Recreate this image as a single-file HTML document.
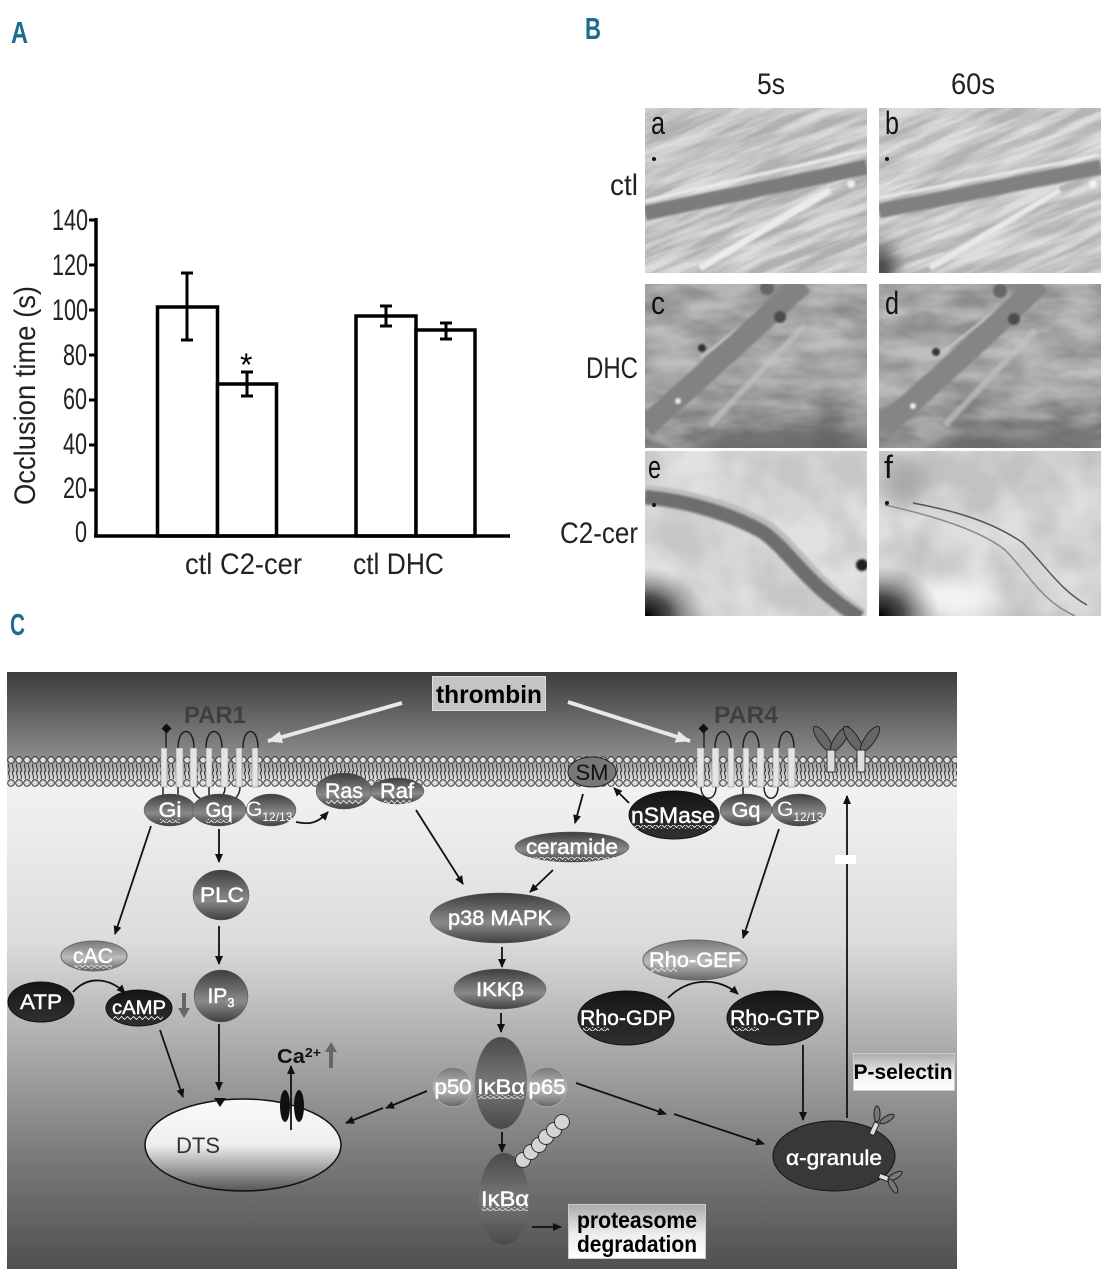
<!DOCTYPE html>
<html><head><meta charset="utf-8"><style>
html,body{margin:0;padding:0;background:#fff}
svg{display:block}
text{font-family:"Liberation Sans",sans-serif}
.n{fill:#fff;font-size:21px;text-anchor:middle;stroke:#fff;stroke-width:.45}
.t{fill:#222;font-size:30px}
.l{fill:#1b6c8e;font-weight:bold;font-size:31px}
.p{fill:#111;font-size:32px}
.k{fill:#000;font-weight:bold;font-size:23px;text-anchor:middle}
.a{stroke:#111;stroke-width:1.8;fill:none;marker-end:url(#ah)}
.bar{fill:#e4e4e4;stroke:#888;stroke-width:.6}
.loop{fill:none;stroke:#222;stroke-width:1.5}
.ov{mix-blend-mode:overlay}
</style></head><body>
<svg xmlns="http://www.w3.org/2000/svg" width="1108" height="1280" viewBox="0 0 1108 1280">
<defs>
<marker id="ah" markerWidth="10" markerHeight="10" refX="8" refY="4" orient="auto" markerUnits="userSpaceOnUse"><path d="M0,0L9,4L0,8Z" fill="#111"/></marker>
<marker id="wh" markerWidth="18" markerHeight="14" refX="14" refY="6" orient="auto" markerUnits="userSpaceOnUse"><path d="M0,0L15,6L0,12Z" fill="#e8e8e8"/></marker>
<linearGradient id="bg" x1="0" y1="0" x2="0" y2="1">
<stop offset="0" stop-color="#3c3c3c"/><stop offset=".14" stop-color="#8a8a8a"/><stop offset=".19" stop-color="#f2f2f2"/>
<stop offset=".45" stop-color="#dcdcdc"/><stop offset=".62" stop-color="#adadad"/><stop offset=".8" stop-color="#7d7d7d"/><stop offset="1" stop-color="#505050"/></linearGradient>
<linearGradient id="gd" x1="0" y1="0" x2="0" y2="1"><stop offset="0" stop-color="#3d3d3d"/><stop offset=".6" stop-color="#8a8a8a"/><stop offset="1" stop-color="#404040"/></linearGradient>
<linearGradient id="gm" x1="0" y1="0" x2="0" y2="1"><stop offset="0" stop-color="#777"/><stop offset=".55" stop-color="#bbb"/><stop offset="1" stop-color="#666"/></linearGradient>
<linearGradient id="gb" x1="0" y1="0" x2="0" y2="1"><stop offset="0" stop-color="#151515"/><stop offset="1" stop-color="#303030"/></linearGradient>
<linearGradient id="gv" x1="0" y1="0" x2="0" y2="1"><stop offset="0" stop-color="#4a4a4a"/><stop offset=".5" stop-color="#777"/><stop offset="1" stop-color="#4a4a4a"/></linearGradient>
<linearGradient id="gdts" x1="0" y1="0" x2="0" y2="1"><stop offset="0" stop-color="#fafafa"/><stop offset=".5" stop-color="#eee"/><stop offset="1" stop-color="#555"/></linearGradient>
<linearGradient id="gbox" x1="0" y1="0" x2="0" y2="1"><stop offset="0" stop-color="#aaa"/><stop offset=".55" stop-color="#eee"/><stop offset="1" stop-color="#fff"/></linearGradient>
<linearGradient id="gcd" x1="0" y1="0" x2="0" y2="1"><stop offset="0" stop-color="#a0a0a0"/><stop offset=".55" stop-color="#ababab"/><stop offset=".85" stop-color="#8e8e8e"/><stop offset="1" stop-color="#8a8a8a"/></linearGradient>
<radialGradient id="corner" cx="0" cy="1" r="1"><stop offset="0" stop-color="#000"/><stop offset=".4" stop-color="#333" stop-opacity=".85"/><stop offset="1" stop-color="#888" stop-opacity="0"/></radialGradient>
<pattern id="mem" x="7" y="756" width="8" height="31" patternUnits="userSpaceOnUse">
<circle cx="4" cy="4" r="3.300" fill="#dedede" stroke="#333" stroke-width="1"/>
<circle cx="4" cy="27" r="3.300" fill="#dedede" stroke="#333" stroke-width="1"/>
<path d="M2,8C0,11 4,13 2,16M6,8C4,11 8,13 6,16M2,15C0,18 4,20 2,23M6,15C4,18 8,20 6,23" fill="none" stroke="#333" stroke-width="1"/>
</pattern>
<pattern id="wav" width="6" height="4" patternUnits="userSpaceOnUse"><path d="M0,2L1.500,.5L4.500,3.500L6,2" fill="none" stroke="#ddd" stroke-width="1"/></pattern>
<pattern id="wavd" width="6" height="4" patternUnits="userSpaceOnUse"><path d="M0,2L1.500,.5L4.500,3.500L6,2" fill="none" stroke="#333" stroke-width="1"/></pattern>
<filter id="b1" x="-20%" y="-20%" width="140%" height="140%"><feGaussianBlur stdDeviation="1"/></filter>
<filter id="b3" x="-50%" y="-50%" width="200%" height="200%"><feGaussianBlur stdDeviation="3"/></filter>
<filter id="b8" x="-100%" y="-100%" width="300%" height="300%"><feGaussianBlur stdDeviation="10"/></filter>
<filter id="nAB" x="0" y="0" width="100%" height="100%" color-interpolation-filters="sRGB"><feTurbulence type="fractalNoise" baseFrequency=".012 .1" numOctaves="4" seed="7"/><feColorMatrix values="2.6 0 0 0 -.8 2.6 0 0 0 -.8 2.6 0 0 0 -.8 0 0 0 0 1"/></filter>
<filter id="nCD" x="0" y="0" width="100%" height="100%" color-interpolation-filters="sRGB"><feTurbulence type="fractalNoise" baseFrequency=".02 .05" numOctaves="3" seed="11"/><feColorMatrix values="2 0 0 0 -.5 2 0 0 0 -.5 2 0 0 0 -.5 0 0 0 0 1"/></filter>
<filter id="nEF" x="0" y="0" width="100%" height="100%" color-interpolation-filters="sRGB"><feTurbulence type="fractalNoise" baseFrequency=".018" numOctaves="3" seed="3"/><feColorMatrix values="2.4 0 0 0 -.7 2.4 0 0 0 -.7 2.4 0 0 0 -.7 0 0 0 0 1"/></filter>
<clipPath id="cA"><rect x="645" y="108" width="222" height="165"/></clipPath>
<clipPath id="cB"><rect x="879" y="108" width="222" height="165"/></clipPath>
<clipPath id="cC"><rect x="645" y="284" width="222" height="164"/></clipPath>
<clipPath id="cD"><rect x="879" y="284" width="222" height="164"/></clipPath>
<clipPath id="cE"><rect x="645" y="451" width="222" height="165"/></clipPath>
<clipPath id="cF"><rect x="879" y="451" width="222" height="165"/></clipPath>
</defs>
<rect width="1108" height="1280" fill="#fff"/>

<text class="l" x="11" y="43" textLength="17" lengthAdjust="spacingAndGlyphs">A</text>
<text class="l" x="585" y="39" textLength="16" lengthAdjust="spacingAndGlyphs">B</text>
<text class="l" x="10" y="635" textLength="15" lengthAdjust="spacingAndGlyphs">C</text>

<!-- Bar chart -->
<g stroke="#000" fill="#fff" stroke-width="3.5">
<rect x="157.500" y="307" width="60" height="229"/>
<rect x="217.500" y="384" width="59" height="152"/>
<rect x="356" y="316" width="60" height="220"/>
<rect x="416" y="330" width="59" height="206"/>
</g>
<g stroke="#000" stroke-width="3" fill="none">
<path d="M187,273V340M181,273H193M181,340H193"/>
<path d="M247,372V396M241,372H253M241,396H253"/>
<path d="M386,306V326M380,306H392M380,326H392"/>
<path d="M446,323V339M440,323H452M440,339H452"/>
<path d="M96,218V537M94,536H510" stroke-width="3.5"/>
<path d="M89,220H96M89,265H96M89,310H96M89,355H96M89,400H96M89,445H96M89,490H96"/>
</g>
<text class="t" x="52" y="230" textLength="36" lengthAdjust="spacingAndGlyphs">140</text>
<text class="t" x="52" y="275" textLength="36" lengthAdjust="spacingAndGlyphs">120</text>
<text class="t" x="52" y="320" textLength="36" lengthAdjust="spacingAndGlyphs">100</text>
<text class="t" x="63" y="365" textLength="24" lengthAdjust="spacingAndGlyphs">80</text>
<text class="t" x="63" y="409" textLength="24" lengthAdjust="spacingAndGlyphs">60</text>
<text class="t" x="63" y="454" textLength="24" lengthAdjust="spacingAndGlyphs">40</text>
<text class="t" x="63" y="498" textLength="24" lengthAdjust="spacingAndGlyphs">20</text>
<text class="t" x="75" y="542" textLength="12" lengthAdjust="spacingAndGlyphs">0</text>
<text class="t" transform="translate(35,505) rotate(-90)" textLength="219" lengthAdjust="spacingAndGlyphs">Occlusion time (s)</text>
<text class="t" x="185" y="574" textLength="117" lengthAdjust="spacingAndGlyphs">ctl C2-cer</text>
<text class="t" x="353" y="574" textLength="91" lengthAdjust="spacingAndGlyphs">ctl DHC</text>
<text class="t" x="240" y="376" style="font-size:32px;fill:#000">*</text>
<text class="t" x="757" y="94" textLength="28" lengthAdjust="spacingAndGlyphs">5s</text>
<text class="t" x="951" y="94" textLength="44" lengthAdjust="spacingAndGlyphs">60s</text>
<text class="t" x="610" y="195" textLength="28" lengthAdjust="spacingAndGlyphs">ctl</text>
<text class="t" x="586" y="378" textLength="52" lengthAdjust="spacingAndGlyphs">DHC</text>
<text class="t" x="560" y="543" textLength="78" lengthAdjust="spacingAndGlyphs">C2-cer</text>

<!-- Photo a -->
<g clip-path="url(#cA)">
<rect x="645" y="108" width="222" height="165" fill="#c6c6c6"/>
<rect x="450" y="-50" width="600" height="480" filter="url(#nAB)" class="ov" opacity=".38" transform="rotate(-22 756 190)"/>
<g filter="url(#b1)" fill="none">
<path d="M645,201L867,150" stroke="#eee" stroke-width="3"/>
<path d="M700,268L830,190" stroke="#ececec" stroke-width="7"/>
<path d="M645,213L867,167" stroke="#7c7c7c" stroke-width="15"/>
<circle cx="851" cy="184" r="4" fill="#eee"/>
</g>
<circle cx="654" cy="159" r="2" fill="#111"/>
</g>
<!-- Photo b -->
<g clip-path="url(#cB)">
<rect x="879" y="108" width="222" height="165" fill="#c8c8c8"/>
<rect x="684" y="-50" width="600" height="480" filter="url(#nAB)" class="ov" opacity=".38" transform="rotate(-22 990 190)"/>
<g filter="url(#b1)" fill="none">
<path d="M879,198L1101,155" stroke="#ececec" stroke-width="3"/>
<path d="M930,268L1060,190" stroke="#e8e8e8" stroke-width="6"/>
<path d="M879,211L1101,167" stroke="#808080" stroke-width="15"/>
<circle cx="1093" cy="184" r="4" fill="#f4f4f4"/>
</g>
<ellipse cx="880" cy="268" rx="14" ry="24" fill="#333" filter="url(#b8)"/>
<circle cx="887" cy="159" r="2" fill="#111"/>
</g>
<!-- Photo c -->
<g clip-path="url(#cC)">
<rect x="645" y="284" width="222" height="164" fill="url(#gcd)"/>
<rect x="450" y="100" width="600" height="500" filter="url(#nCD)" class="ov" opacity=".25"/>
<ellipse cx="790" cy="447" rx="100" ry="14" fill="#646464" filter="url(#b8)"/>
<g filter="url(#b1)" fill="none">
<path d="M700,358L790,288" stroke="#cfcfcf" stroke-width="2"/>
<path d="M645,427Q720,360 803,283" stroke="#828282" stroke-width="22"/>
<path d="M710,425L805,325" stroke="#c0c0c0" stroke-width="6" opacity=".7"/>
</g>
<g filter="url(#b1)"><circle cx="702" cy="348" r="4" fill="#333"/><circle cx="780" cy="317" r="6" fill="#4c4c4c"/><circle cx="767" cy="288" r="7" fill="#666"/><circle cx="678" cy="401" r="3" fill="#eee"/></g>
</g>
<!-- Photo d -->
<g clip-path="url(#cD)">
<rect x="879" y="284" width="222" height="164" fill="url(#gcd)"/>
<rect x="684" y="100" width="600" height="500" filter="url(#nCD)" class="ov" opacity=".25"/>
<ellipse cx="1030" cy="447" rx="100" ry="12" fill="#6a6a6a" filter="url(#b8)"/>
<g filter="url(#b1)" fill="none">
<path d="M935,358L1025,288" stroke="#cfcfcf" stroke-width="2"/>
<path d="M883,427Q960,360 1040,283" stroke="#858585" stroke-width="22"/>
<path d="M945,425L1035,330" stroke="#c0c0c0" stroke-width="6" opacity=".7"/>
</g>
<g filter="url(#b1)"><circle cx="936" cy="352" r="4" fill="#333"/><circle cx="1014" cy="319" r="6" fill="#4c4c4c"/><circle cx="1000" cy="291" r="7" fill="#666"/><circle cx="913" cy="406" r="3" fill="#eee"/></g>
</g>
<!-- Photo e -->
<g clip-path="url(#cE)">
<rect x="645" y="451" width="222" height="165" fill="#d4d4d4"/>
<rect x="450" y="300" width="600" height="500" filter="url(#nEF)" class="ov" opacity=".3"/>
<path d="M645,495C690,499 735,513 765,530C795,552 805,580 860,618" fill="none" stroke="#bcbcbc" stroke-width="20" filter="url(#b1)"/>
<path d="M645,497C690,501 733,515 763,532C793,554 803,582 860,618" fill="none" stroke="#6e6e6e" stroke-width="14" filter="url(#b1)"/>
<rect x="645" y="566" width="62" height="50" fill="url(#corner)"/>
<ellipse cx="862" cy="565" rx="6" ry="6" fill="#222" filter="url(#b1)"/>
<circle cx="654" cy="505" r="2" fill="#111"/>
</g>
<!-- Photo f -->
<g clip-path="url(#cF)">
<rect x="879" y="451" width="222" height="165" fill="#d0d0d0"/>
<rect x="684" y="300" width="600" height="500" filter="url(#nEF)" class="ov" opacity=".3"/>
<ellipse cx="950" cy="598" rx="45" ry="18" fill="#f4f4f4" filter="url(#b8)"/>
<ellipse cx="905" cy="480" rx="22" ry="24" fill="#a8a8a8" filter="url(#b8)"/>
<g fill="none" stroke="#555" stroke-width="1.500">
<path d="M913,503C950,510 990,520 1023,543C1045,565 1060,590 1087,605"/>
<path d="M885,505C930,515 980,530 1005,550C1030,575 1040,600 1075,616" stroke="#888"/>
</g>
<rect x="879" y="566" width="62" height="50" fill="url(#corner)"/>
<circle cx="887" cy="503" r="2" fill="#111"/>
</g>
<text class="p" x="651" y="134" textLength="14" lengthAdjust="spacingAndGlyphs">a</text>
<text class="p" x="885" y="134" textLength="14" lengthAdjust="spacingAndGlyphs">b</text>
<text class="p" x="651" y="314" textLength="14" lengthAdjust="spacingAndGlyphs">c</text>
<text class="p" x="885" y="314" textLength="14" lengthAdjust="spacingAndGlyphs">d</text>
<text class="p" x="648" y="478" textLength="13" lengthAdjust="spacingAndGlyphs">e</text>
<text class="p" x="884" y="478" textLength="9" lengthAdjust="spacingAndGlyphs">f</text>

<!-- Pathway panel -->
<rect x="7" y="672" width="950" height="597" fill="url(#bg)"/>
<rect x="7" y="756" width="950" height="31" fill="url(#mem)"/>

<line x1="402" y1="703" x2="268" y2="741" stroke="#e8e8e8" stroke-width="4" marker-end="url(#wh)"/>
<line x1="568" y1="702" x2="690" y2="741" stroke="#e8e8e8" stroke-width="4" marker-end="url(#wh)"/>
<rect x="432.500" y="676.500" width="113" height="34" fill="#c4c4c4" stroke="#ddd"/>
<text class="k" x="489" y="703" textLength="106" lengthAdjust="spacingAndGlyphs" style="font-size:25px">thrombin</text>
<text x="184" y="723" textLength="62" lengthAdjust="spacingAndGlyphs" style="font-weight:bold;font-size:24px;fill:#3f3f3f">PAR1</text>
<text x="714" y="723" textLength="64" lengthAdjust="spacingAndGlyphs" style="font-weight:bold;font-size:24px;fill:#3f3f3f">PAR4</text>

<!-- PAR1 -->
<path class="loop" d="M166,748V732M178,748C178,726 194,726 194,748M206,748C206,726 222,726 222,748M243,748C243,726 258,726 258,748M163,787V800M178,787V800M193,787C193,805 226,805 225,787M209,787V795M240,787C240,800 226,805 226,800"/>
<rect x="163" y="725" width="7" height="7" fill="#111" transform="rotate(45 166.500 728.500)"/>
<g class="bar"><rect x="161" y="748" width="6" height="39"/><rect x="176" y="748" width="7" height="39"/><rect x="190" y="748" width="7" height="39"/><rect x="206" y="748" width="6" height="39"/><rect x="221" y="748" width="7" height="39"/><rect x="236" y="748" width="6" height="39"/><rect x="252" y="748" width="6" height="39"/></g>
<!-- PAR4 -->
<path class="loop" d="M704,748V732M715,748C715,726 731,726 731,748M743,748C743,726 759,726 759,748M779,748C779,726 794,726 794,748M701,787C701,802 716,802 716,787M743,787V798M764,787C764,802 778,802 778,787"/>
<rect x="700" y="725" width="7" height="7" fill="#111" transform="rotate(45 703.500 728.500)"/>
<g class="bar"><rect x="697" y="748" width="7" height="39"/><rect x="712" y="748" width="7" height="39"/><rect x="728" y="748" width="6" height="39"/><rect x="743" y="748" width="6" height="39"/><rect x="757" y="748" width="7" height="39"/><rect x="773" y="748" width="6" height="39"/><rect x="788" y="748" width="7" height="39"/></g>
<!-- P-selectin receptors -->
<g fill="#666" stroke="#222" stroke-width="1">
<ellipse cx="823" cy="739" rx="5" ry="15" transform="rotate(-35 823 739)"/><ellipse cx="840" cy="739" rx="5" ry="15" transform="rotate(35 840 739)"/>
<ellipse cx="853" cy="739" rx="5" ry="15" transform="rotate(-35 853 739)"/><ellipse cx="870" cy="739" rx="5" ry="15" transform="rotate(35 870 739)"/>
</g>
<rect x="827" y="750" width="8" height="22" fill="#ddd" stroke="#333"/><rect x="857" y="750" width="8" height="22" fill="#ddd" stroke="#333"/>

<!-- arrows -->
<path class="a" d="M151,826L115,934"/>
<path class="a" d="M219,829V862"/>
<path class="a" d="M219,926V964"/>
<path class="a" d="M296,822C310,825 318,823 328,812"/>
<path class="a" d="M416,810L463,884"/>
<path class="a" d="M583,794L575,823"/>
<path class="a" d="M629,803L614,788"/>
<path class="a" d="M553,870L530,892"/>
<path class="a" d="M779,829L743,938"/>
<path class="a" d="M502,947V967"/>
<path class="a" d="M501,1013V1032"/>
<path class="a" d="M502,1132V1152"/>
<path class="a" d="M532,1227H561"/>
<path class="a" d="M427,1091L386,1108"/>
<path class="a" d="M383,1108L346,1123"/>
<path class="a" d="M576,1083L666,1114"/>
<path class="a" d="M674,1114L764,1144"/>
<path class="a" d="M803,1045V1120"/>
<path class="a" d="M160,1030L183,1097"/>
<path class="a" d="M219,1024V1090"/>
<path class="a" d="M847,1118V796"/>
<path class="a" d="M668,998C690,976 720,978 738,994"/>
<path class="a" d="M73,992C88,975 110,978 125,993"/>
<rect x="835" y="855" width="21" height="9" fill="#fff"/>

<!-- DTS -->
<ellipse cx="243" cy="1145" rx="98" ry="46" fill="url(#gdts)" stroke="#111" stroke-width="1.500"/>
<text x="176" y="1153" style="font-size:22px;fill:#333" textLength="44" lengthAdjust="spacingAndGlyphs">DTS</text>
<path d="M214,1098h12l-6,9z" fill="#111"/>
<ellipse cx="285" cy="1106" rx="5" ry="16" fill="#111"/><ellipse cx="299" cy="1106" rx="5" ry="16" fill="#111"/>
<path class="a" d="M291,1130V1066"/>
<text x="277" y="1063" style="font-size:20px;fill:#111;font-weight:bold" textLength="44" lengthAdjust="spacingAndGlyphs">Ca<tspan dy="-6" style="font-size:13px">2+</tspan></text>
<path d="M331,1068V1050" stroke="#666" stroke-width="4"/><path d="M325,1052l6,-10l6,10z" fill="#666"/>
<path d="M184,993V1011" stroke="#666" stroke-width="4"/><path d="M178,1008l6,10l6,-10z" fill="#666"/>

<!-- nodes -->
<g fill="url(#gd)" stroke="#555" stroke-width=".5">
<ellipse cx="170" cy="810" rx="26" ry="16"/><ellipse cx="219" cy="810" rx="27" ry="16"/><ellipse cx="271" cy="810" rx="25" ry="16"/>
<ellipse cx="344" cy="791" rx="28" ry="18"/><ellipse cx="397" cy="791" rx="27" ry="13"/>
<ellipse cx="221" cy="895" rx="28" ry="25"/><ellipse cx="221" cy="996" rx="27" ry="26"/>
<ellipse cx="572" cy="847" rx="57" ry="15"/><ellipse cx="500" cy="918" rx="70" ry="25"/><ellipse cx="500" cy="989" rx="46" ry="20"/>
<ellipse cx="746" cy="810" rx="26" ry="16"/><ellipse cx="799" cy="810" rx="27" ry="16"/>
</g>
<ellipse cx="94" cy="956" rx="33" ry="15" fill="url(#gm)" stroke="#666"/>
<ellipse cx="695" cy="960" rx="52" ry="20" fill="url(#gm)" stroke="#666"/>
<ellipse cx="592" cy="772" rx="24" ry="15" fill="#777" stroke="#222"/>
<g fill="url(#gb)" stroke="#111">
<ellipse cx="41" cy="1002" rx="33" ry="20"/><ellipse cx="139" cy="1008" rx="33" ry="18"/>
<ellipse cx="674" cy="815" rx="45" ry="24"/><ellipse cx="626" cy="1018" rx="48" ry="27"/><ellipse cx="775" cy="1018" rx="48" ry="27"/>
</g>
<circle cx="453" cy="1087" r="20" fill="url(#gm)" stroke="#aaa"/><circle cx="547" cy="1087" r="20" fill="url(#gm)" stroke="#aaa"/>
<ellipse cx="501" cy="1083" rx="26" ry="46" fill="url(#gv)"/>
<ellipse cx="504" cy="1199" rx="25" ry="46" fill="url(#gv)"/>
<g fill="#d4d4d4" stroke="#333"><circle cx="523" cy="1160" r="7.500"/><circle cx="531" cy="1152" r="7.500"/><circle cx="539" cy="1145" r="7.500"/><circle cx="546" cy="1137" r="7.500"/><circle cx="554" cy="1130" r="7.500"/><circle cx="562" cy="1122" r="7.500"/></g>
<ellipse cx="834" cy="1156" rx="61" ry="35" fill="#383838" stroke="#111"/>
<g stroke="#222" stroke-width="1">
<rect x="872" y="1122" width="5" height="13" fill="#ddd" transform="rotate(25 874 1128)"/>
<ellipse cx="877" cy="1114" rx="3" ry="8" fill="#777"/><ellipse cx="887" cy="1119" rx="3" ry="8" fill="#777" transform="rotate(60 887 1119)"/>
<rect x="879" y="1175" width="10" height="5" fill="#ddd" transform="rotate(20 884 1177)"/>
<ellipse cx="895" cy="1176" rx="3" ry="8" fill="#777" transform="rotate(60 895 1176)"/><ellipse cx="893" cy="1186" rx="3" ry="8" fill="#777" transform="rotate(-30 893 1186)"/>
</g>

<!-- wavy spell-check underlines -->
<g fill="url(#wav)">
<rect x="160" y="819" width="20" height="4"/><rect x="206" y="819" width="26" height="4"/>
<rect x="326" y="800" width="36" height="4"/><rect x="381" y="800" width="30" height="4"/>
<rect x="74" y="965" width="38" height="4"/><rect x="113" y="1016" width="50" height="4"/>
<rect x="527" y="857" width="90" height="4"/><rect x="632" y="825" width="84" height="4"/>
<rect x="651" y="968" width="26" height="4"/><rect x="583" y="1027" width="26" height="4"/><rect x="733" y="1027" width="26" height="4"/>
<rect x="478" y="1095" width="46" height="4"/><rect x="482" y="1207" width="46" height="4"/>
</g>
<g fill="url(#wavd)"><rect x="578" y="1228" width="118" height="4"/><rect x="870" y="1081" width="82" height="4"/></g>

<!-- node labels -->
<text class="n" x="170" y="817" textLength="23" lengthAdjust="spacingAndGlyphs">Gi</text>
<text class="n" x="219" y="817" textLength="27" lengthAdjust="spacingAndGlyphs">Gq</text>
<text x="246" y="816" style="font-size:21px;fill:#fff">G<tspan dy="5" style="font-size:12px">12/13</tspan></text>
<text class="n" x="344" y="798" textLength="38" lengthAdjust="spacingAndGlyphs">Ras</text>
<text class="n" x="397" y="798" textLength="34" lengthAdjust="spacingAndGlyphs">Raf</text>
<text class="n" x="222" y="902" textLength="44" lengthAdjust="spacingAndGlyphs">PLC</text>
<text class="n" x="93" y="963" textLength="40" lengthAdjust="spacingAndGlyphs">cAC</text>
<text class="n" x="41" y="1009" textLength="42" lengthAdjust="spacingAndGlyphs">ATP</text>
<text class="n" x="139" y="1014" textLength="54" lengthAdjust="spacingAndGlyphs" style="font-size:19px">cAMP</text>
<text class="n" x="221" y="1003">IP<tspan dy="4" style="font-size:13px">3</tspan></text>
<text class="n" x="572" y="854" textLength="92" lengthAdjust="spacingAndGlyphs">ceramide</text>
<text class="n" x="500" y="925" textLength="104" lengthAdjust="spacingAndGlyphs">p38 MAPK</text>
<text class="n" x="500" y="996" textLength="48" lengthAdjust="spacingAndGlyphs" style="font-size:19px">IKKβ</text>
<text x="592" y="780" text-anchor="middle" style="font-size:22px;fill:#111">SM</text>
<text class="n" x="673" y="823" textLength="84" lengthAdjust="spacingAndGlyphs" style="font-size:22px">nSMase</text>
<text class="n" x="746" y="817" textLength="29" lengthAdjust="spacingAndGlyphs">Gq</text>
<text x="777" y="816" style="font-size:21px;fill:#fff">G<tspan dy="5" style="font-size:12px">12/13</tspan></text>
<text class="n" x="695" y="967" textLength="92" lengthAdjust="spacingAndGlyphs">Rho-GEF</text>
<text class="n" x="626" y="1025" textLength="92" lengthAdjust="spacingAndGlyphs">Rho-GDP</text>
<text class="n" x="775" y="1025" textLength="90" lengthAdjust="spacingAndGlyphs">Rho-GTP</text>
<text class="n" x="453" y="1094" textLength="37" lengthAdjust="spacingAndGlyphs">p50</text>
<text class="n" x="547" y="1094" textLength="37" lengthAdjust="spacingAndGlyphs">p65</text>
<text class="n" x="501" y="1094" textLength="48" lengthAdjust="spacingAndGlyphs">IκBα</text>
<text class="n" x="505" y="1206" textLength="48" lengthAdjust="spacingAndGlyphs">IκBα</text>
<text class="n" x="834" y="1165" textLength="96" lengthAdjust="spacingAndGlyphs">α-granule</text>

<!-- boxes -->
<rect x="568.500" y="1204.500" width="137" height="54" fill="url(#gbox)" stroke="#ccc"/>
<text class="k" x="637" y="1228" textLength="120" lengthAdjust="spacingAndGlyphs">proteasome</text>
<text class="k" x="637" y="1252" textLength="120" lengthAdjust="spacingAndGlyphs">degradation</text>
<rect x="853.500" y="1053.500" width="101" height="37" fill="url(#gbox)" stroke="#ccc"/>
<text class="k" x="903" y="1079" textLength="99" lengthAdjust="spacingAndGlyphs" style="font-size:21px">P-selectin</text>
</svg>
</body></html>
